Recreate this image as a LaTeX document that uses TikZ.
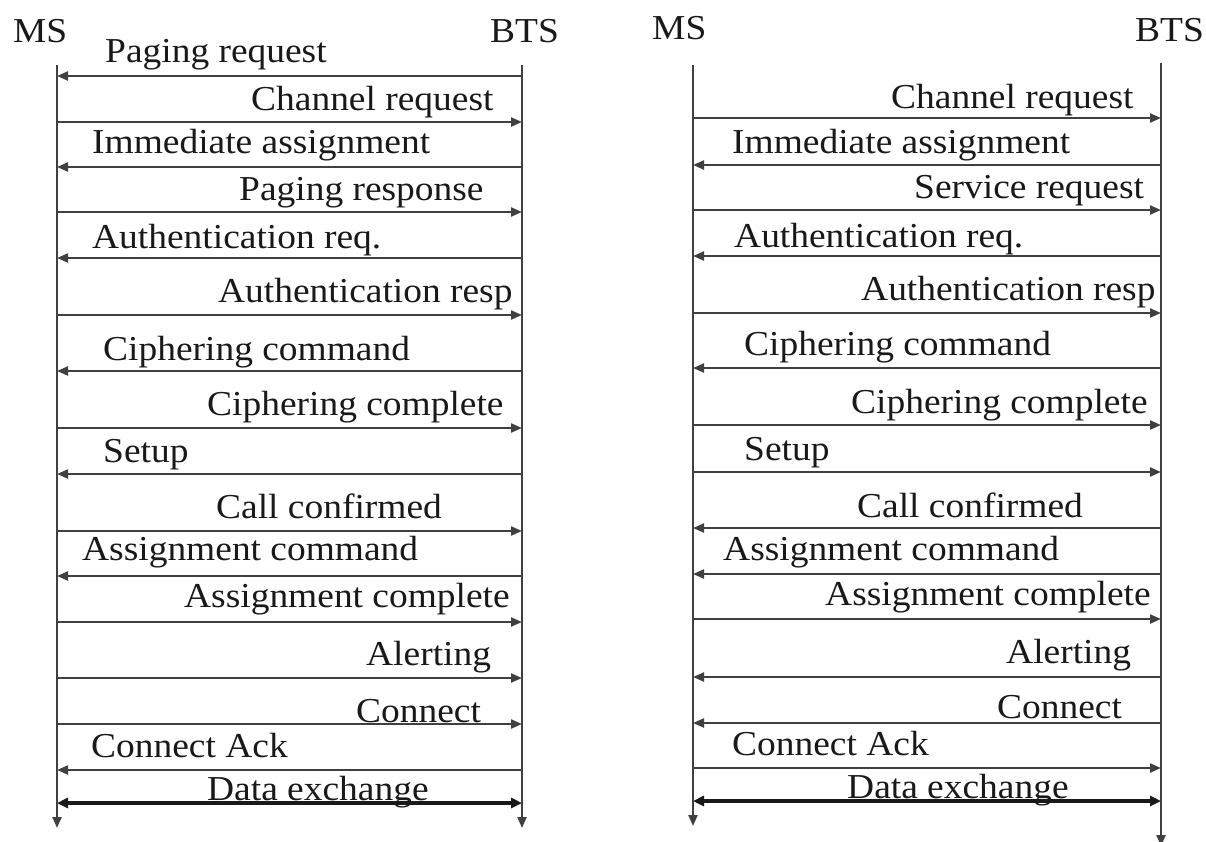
\documentclass[tikz,border=0pt]{standalone}
\usepackage{fontspec}
\setmainfont[FakeStretch=1.07]{Liberation Serif}
\usetikzlibrary{arrows.meta}
\tikzset{
  lbl/.style={anchor=base west, inner sep=0pt, text=black!90, font=\fontsize{35pt}{40pt}\selectfont},
  life/.style={draw=black!75, line width=2.2pt, -{Triangle[length=11pt,width=9pt]}},
  msg/.style={draw=black!75, line width=2.2pt, -{Triangle[length=11pt,width=9pt]}},
  both/.style={draw=black!90, line width=3.4pt, {Triangle[length=11pt,width=10pt]}-{Triangle[length=11pt,width=10pt]}}
}
\begin{document}
\begin{tikzpicture}[x=1pt,y=-1pt]
\useasboundingbox[fill=white] (0,0) rectangle (1206,841);
% ---------- left diagram ----------
\node[lbl] (msAl) at (13,42) {MS};
\node[lbl] (btsAl) at (490,42) {BTS};
\coordinate (msA) at (57,65);
\coordinate (btsA) at (522,65);
\coordinate (msAend) at (57,828);
\coordinate (btsAend) at (522,828);
\draw[life] (msA) -- (msAend);
\draw[life] (btsA) -- (btsAend);

\node[lbl] (a1) at (105,62) {Paging request};
\draw[msg] (btsA |- 0,76) -- (msA |- 0,76);
\node[lbl] (a2) at (251,110) {Channel request};
\draw[msg] (msA |- 0,122) -- (btsA |- 0,122);
\node[lbl] (a3) at (92,153) {Immediate assignment};
\draw[msg] (btsA |- 0,167) -- (msA |- 0,167);
\node[lbl] (a4) at (239,200) {Paging response};
\draw[msg] (msA |- 0,212) -- (btsA |- 0,212);
\node[lbl] (a5) at (92,248) {Authentication req.};
\draw[msg] (btsA |- 0,258) -- (msA |- 0,258);
\node[lbl] (a6) at (218,302) {Authentication resp};
\draw[msg] (msA |- 0,315) -- (btsA |- 0,315);
\node[lbl] (a7) at (103,360) {Ciphering command};
\draw[msg] (btsA |- 0,371) -- (msA |- 0,371);
\node[lbl] (a8) at (207,415) {Ciphering complete};
\draw[msg] (msA |- 0,428) -- (btsA |- 0,428);
\node[lbl] (a9) at (103,462) {Setup};
\draw[msg] (btsA |- 0,474) -- (msA |- 0,474);
\node[lbl] (a10) at (216,518) {Call confirmed};
\draw[msg] (msA |- 0,531) -- (btsA |- 0,531);
\node[lbl] (a11) at (82,560) {Assignment command};
\draw[msg] (btsA |- 0,576) -- (msA |- 0,576);
\node[lbl] (a12) at (184,607) {Assignment complete};
\draw[msg] (msA |- 0,622) -- (btsA |- 0,622);
\node[lbl] (a13) at (366,665) {Alerting};
\draw[msg] (msA |- 0,678) -- (btsA |- 0,678);
\node[lbl] (a14) at (356,722) {Connect};
\draw[msg] (msA |- 0,724) -- (btsA |- 0,724);
\node[lbl] (a15) at (91,757) {Connect Ack};
\draw[msg] (btsA |- 0,770) -- (msA |- 0,770);
\node[lbl] (a16) at (207,800) {Data exchange};
\draw[both] (msA |- 0,803) -- (btsA |- 0,803);

% ---------- right diagram ----------
\node[lbl] (msBl) at (652,39) {MS};
\node[lbl] (btsBl) at (1135,41) {BTS};
\coordinate (msB) at (693,65);
\coordinate (btsB) at (1161,63);
\coordinate (msBend) at (693,826);
\coordinate (btsBend) at (1161,846);
\draw[life] (msB) -- (msBend);
\draw[life] (btsB) -- (btsBend);

\node[lbl] (b1) at (891,108) {Channel request};
\draw[msg] (msB |- 0,118) -- (btsB |- 0,118);
\node[lbl] (b2) at (732,153) {Immediate assignment};
\draw[msg] (btsB |- 0,165) -- (msB |- 0,165);
\node[lbl] (b3) at (914,198) {Service request};
\draw[msg] (msB |- 0,210) -- (btsB |- 0,210);
\node[lbl] (b4) at (734,247) {Authentication req.};
\draw[msg] (btsB |- 0,256) -- (msB |- 0,256);
\node[lbl] (b5) at (861,300) {Authentication resp};
\draw[msg] (msB |- 0,313) -- (btsB |- 0,313);
\node[lbl] (b6) at (744,355) {Ciphering command};
\draw[msg] (btsB |- 0,368) -- (msB |- 0,368);
\node[lbl] (b7) at (851,413) {Ciphering complete};
\draw[msg] (msB |- 0,425) -- (btsB |- 0,425);
\node[lbl] (b8) at (744,460) {Setup};
\draw[msg] (msB |- 0,472) -- (btsB |- 0,472);
\node[lbl] (b9) at (857,517) {Call confirmed};
\draw[msg] (btsB |- 0,528) -- (msB |- 0,528);
\node[lbl] (b10) at (723,560) {Assignment command};
\draw[msg] (btsB |- 0,574) -- (msB |- 0,574);
\node[lbl] (b11) at (825,605) {Assignment complete};
\draw[msg] (msB |- 0,619) -- (btsB |- 0,619);
\node[lbl] (b12) at (1006,663) {Alerting};
\draw[msg] (btsB |- 0,677) -- (msB |- 0,677);
\node[lbl] (b13) at (997,718) {Connect};
\draw[msg] (btsB |- 0,723) -- (msB |- 0,723);
\node[lbl] (b14) at (732,755) {Connect Ack};
\draw[msg] (msB |- 0,768) -- (btsB |- 0,768);
\node[lbl] (b15) at (847,798) {Data exchange};
\draw[both] (msB |- 0,801) -- (btsB |- 0,801);
\end{tikzpicture}
\end{document}
